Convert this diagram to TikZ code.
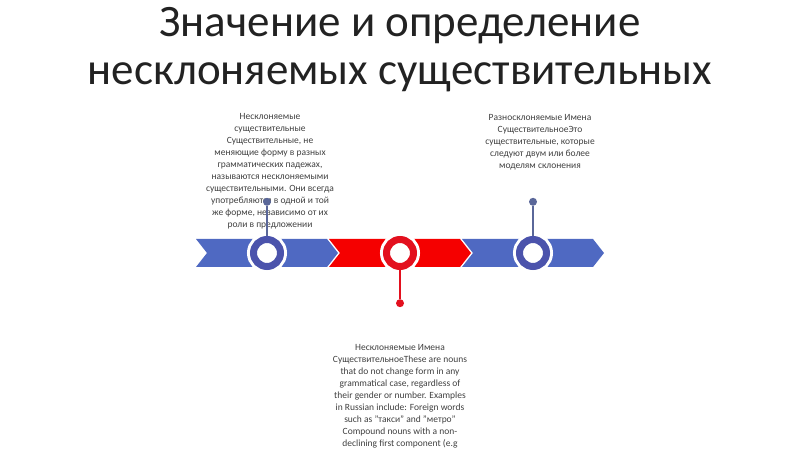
\documentclass[tikz,border=0pt]{standalone}
\usepackage{fontspec}
\setmainfont{Carlito}
\usetikzlibrary{positioning}
\definecolor{chevblue}{HTML}{4F69C2}
\definecolor{ringblue}{HTML}{4B53AC}
\definecolor{stemblue}{HTML}{5A6799}
\definecolor{chevred}{HTML}{F50000}
\definecolor{ringred}{HTML}{E3101E}
\definecolor{notegray}{HTML}{3F3F3F}
\definecolor{titlegray}{HTML}{222222}
\begin{document}
\begin{tikzpicture}[x=1pt,y=1pt,
  ring/.style={circle,draw=#1,line width=7pt,fill=white,minimum size=27pt,inner sep=0pt,
    preaction={draw=white,line width=13pt}},
  dot/.style={circle,fill=#1,minimum size=8pt,inner sep=0pt},
  stem/.style={draw=#1,line width=1.5pt},
  note/.style={align=center,font=\fontsize{9.5}{12}\selectfont,text=notegray,inner sep=0pt,anchor=north},
  headline/.style={font=\fontsize{45}{50}\selectfont,text=titlegray,inner sep=0pt,anchor=base}]
\useasboundingbox (0,0) rectangle (800,449);

% title
\node[headline] (title1) at (400,412) {Значение и определение};
\node[headline] (title2) at (400,364) {несклоняемых существительных};

% notes
\node[note] (t1) at (270,336) {Несклоняемые\\существительные\\Существительные, не\\меняющие форму в разных\\грамматических падежах,\\называются несклоняемыми\\существительными. Они всегда\\употребляются в одной и той\\же форме, независимо от их\\роли в предложении};
\node[note] (t2) at (540,335) {Разносклоняемые Имена\\СуществительноеЭто\\существительные, которые\\следуют двум или более\\моделям склонения};
\node[note] (t3) at (400,105) {Несклоняемые Имена\\СуществительноеThese are nouns\\that do not change form in any\\grammatical case, regardless of\\their gender or number. Examples\\in Russian include: Foreign words\\such as "такси" and "метро"\\Compound nouns with a non-\\declining first component (e.g};

% arrow band
\foreach \x/\col in {196/chevblue,329/chevred,462/chevblue}
  \fill[\col] (\x,210) -- ++(131,0) -- ++(11,-14) -- ++(-11,-14) -- ++(-131,0) -- ++(11,14) -- cycle;

% markers
\node[ring=ringblue] (c1) at (267,196) {};
\node[ring=ringred] (c2) at (400,196) {};
\node[ring=ringblue] (c3) at (533,196) {};

\node[dot=stemblue] (d1) [above=30pt of c1] {};
\node[dot=ringred] (d2) [below=29pt of c2] {};
\node[dot=stemblue] (d3) [above=30pt of c3] {};

\draw[stem=stemblue] (c1) -- (d1);
\draw[stem=ringred] (c2) -- (d2);
\draw[stem=stemblue] (c3) -- (d3);
\end{tikzpicture}
\end{document}
